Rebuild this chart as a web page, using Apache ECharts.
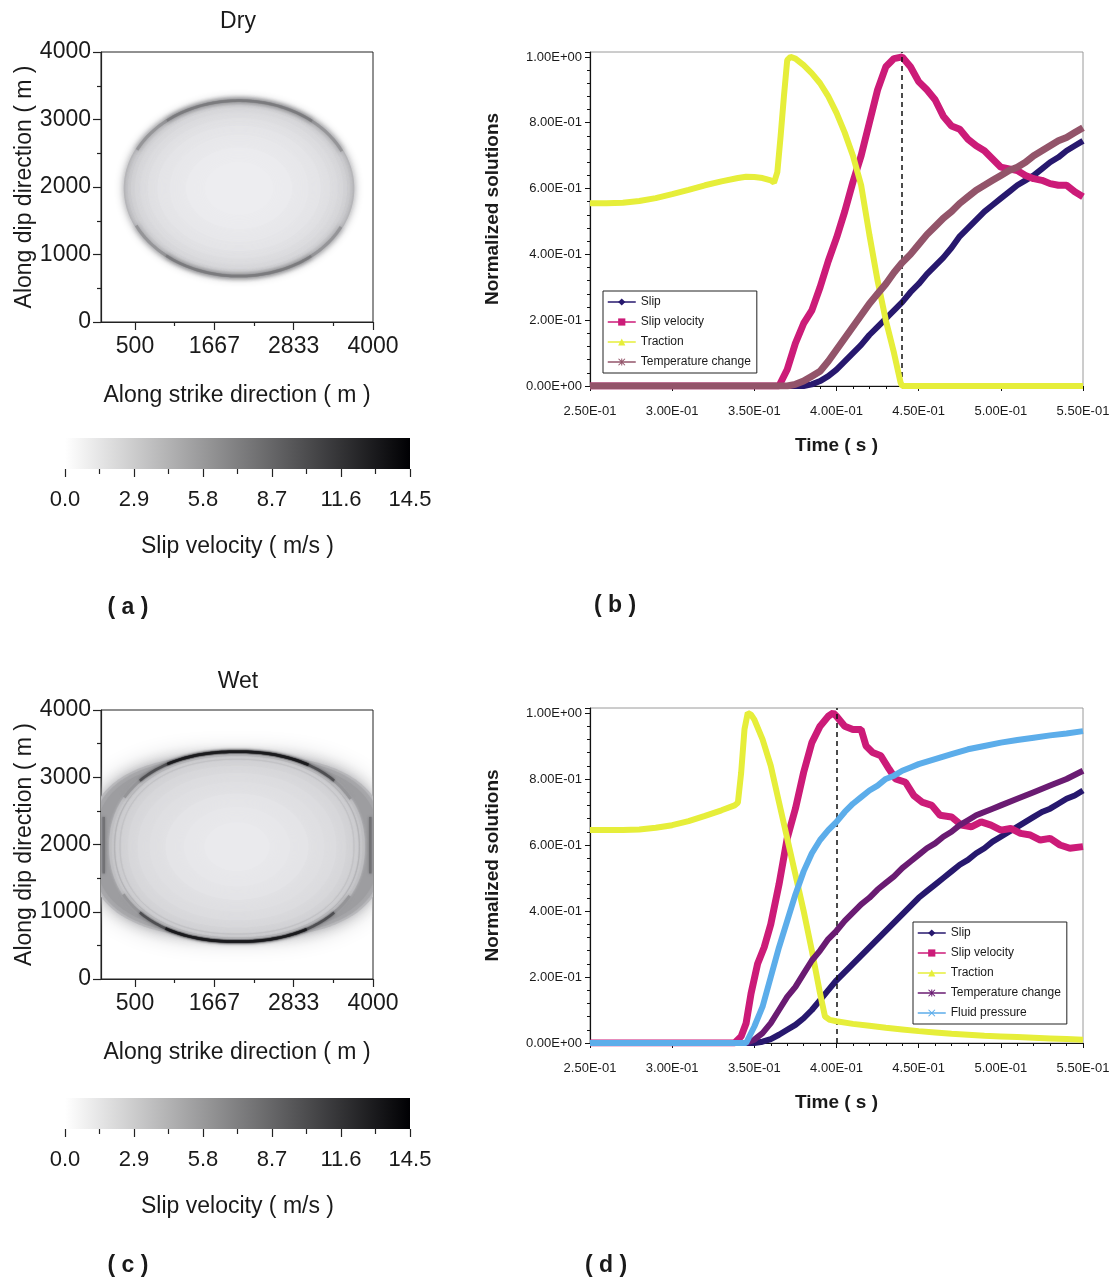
<!DOCTYPE html>
<html>
<head>
<meta charset="utf-8">
<script src="https://cdn.jsdelivr.net/npm/echarts@6/dist/echarts.min.js"></script>
<style>
html,body{margin:0;padding:0;background:#fff;}
#main{width:1117px;height:1279px;}
</style>
</head>
<body>
<div id="main"></div>
<script>
// ---------------- DATA ----------------
// Fault-plane snapshots: rupture fronts as (super)ellipse layers
// [centre strike (m), centre dip (m), half-width (m), half-height (m), shape exponent, slip velocity (m/s), softness]
const dryFronts = [
  [2030, 1980, 1695, 1322, 2.0, 4.6, 10],
  [2030, 1980, 1668, 1298, 2.0, 4.0, 6],
  [2030, 1980, 1635, 1270, 2.0, 3.3, 6],
  [2030, 1980, 1590, 1235, 2.0, 2.8, 8],
  [2030, 1980, 1530, 1190, 2.0, 2.4, 10],
  [2030, 1980, 1450, 1125, 2.0, 2.1, 12],
  [2030, 1980, 1340, 1040, 2.0, 1.8, 14],
  [2030, 1980, 1200, 930, 2.0, 1.55, 16],
  [2030, 1980, 1020, 790, 2.0, 1.35, 18],
  [2030, 1980, 780, 600, 2.0, 1.15, 20],
  [2030, 1980, 500, 390, 2.0, 1.0, 20]
];
// [centre strike, centre dip, half-width, half-height, exponent, from deg, to deg, slip velocity, width, softness]
const dryArcs = [
  [2030, 1980, 1668, 1300, 2.0, 25, 155, 6.0, 3, 5],
  [2030, 1980, 1668, 1300, 2.0, 50, 130, 7.5, 2.5, 4],
  [2030, 1980, 1668, 1300, 2.0, 205, 335, 6.0, 3, 5],
  [2030, 1980, 1668, 1300, 2.0, 230, 310, 7.5, 2.5, 4]
];
const wetFronts = [
  [2000, 1970, 2190, 1360, 2.6, 3.2, 24],
  [2000, 1970, 2150, 1330, 2.6, 4.8, 14],
  [2000, 1970, 2090, 1285, 2.6, 5.6, 8],
  [2000, 1968, 1880, 1420, 2.2, 3.8, 3],
  [2000, 1968, 1840, 1388, 2.2, 3.3, 4],
  [2000, 1968, 1780, 1340, 2.2, 2.9, 5],
  [2000, 1968, 1700, 1280, 2.2, 2.6, 6],
  [2000, 1968, 1600, 1200, 2.2, 2.3, 8],
  [2000, 1968, 1460, 1095, 2.1, 2.0, 10],
  [2000, 1968, 1280, 960, 2.1, 1.8, 12],
  [2000, 1968, 1050, 790, 2.0, 1.55, 14],
  [2000, 1968, 780, 590, 2.0, 1.35, 16],
  [2000, 1968, 480, 360, 2.0, 1.2, 18]
];
const wetArcs = [
  [2000, 1968, 1872, 1412, 2.2, 28, 152, 6, 3, 4],
  [2000, 1968, 1872, 1412, 2.2, 42, 138, 10, 2.5, 3],
  [2000, 1968, 1872, 1412, 2.2, 58, 122, 13, 2.5, 2],
  [2000, 1968, 1872, 1412, 2.2, 208, 332, 6, 3, 4],
  [2000, 1968, 1872, 1412, 2.2, 222, 318, 10, 2.5, 3],
  [2000, 1968, 1872, 1412, 2.2, 238, 302, 13, 2.5, 2],
  [2000, 1968, 1800, 1360, 2.2, 0, 360, 4.2, 1, 1],
  [2000, 1968, 1720, 1300, 2.2, 0, 360, 3.4, 1, 1]
];
// [strike (m), dip from (m), dip to (m), slip velocity, width]
const wetEdges = [
  [40, 1570, 2410, 8, 2.5],
  [3960, 1570, 2410, 8, 2.5]
];
const mapExtent = [0, 4000];
const strikeTicks = [500, 1667, 2833, 4000];
const strikeMinorTicks = [1083, 2250, 3417];
const colorbarRange = [[0, 14.5]];

// Time histories  [time (s), normalized value]
const drySlip = [[0.25,0],[0.38,0],[0.385,0.005],[0.39,0.015],[0.395,0.03],[0.40,0.05],[0.405,0.075],[0.41,0.10],[0.415,0.125],[0.42,0.155],[0.425,0.18],[0.43,0.205],[0.435,0.23],[0.44,0.255],[0.445,0.285],[0.45,0.31],[0.455,0.34],[0.46,0.365],[0.465,0.39],[0.47,0.42],[0.475,0.455],[0.48,0.48],[0.485,0.505],[0.49,0.53],[0.495,0.55],[0.50,0.57],[0.505,0.59],[0.51,0.61],[0.515,0.625],[0.52,0.64],[0.525,0.66],[0.53,0.68],[0.535,0.695],[0.54,0.715],[0.545,0.73],[0.55,0.745]];
const drySlipVelocity = [[0.25,0],[0.365,0],[0.37,0.05],[0.375,0.13],[0.38,0.19],[0.385,0.23],[0.39,0.30],[0.395,0.38],[0.40,0.45],[0.405,0.53],[0.41,0.62],[0.415,0.70],[0.42,0.80],[0.425,0.90],[0.43,0.97],[0.435,0.995],[0.44,1.0],[0.445,0.97],[0.45,0.925],[0.455,0.90],[0.46,0.87],[0.465,0.82],[0.47,0.79],[0.475,0.78],[0.48,0.75],[0.485,0.73],[0.49,0.715],[0.495,0.69],[0.50,0.665],[0.505,0.66],[0.51,0.655],[0.515,0.64],[0.52,0.63],[0.525,0.625],[0.53,0.615],[0.535,0.61],[0.54,0.61],[0.545,0.59],[0.55,0.575]];
const dryTraction = [[0.25,0.555],[0.26,0.555],[0.27,0.557],[0.28,0.562],[0.29,0.571],[0.30,0.583],[0.31,0.596],[0.32,0.61],[0.33,0.622],[0.34,0.632],[0.345,0.636],[0.35,0.635],[0.355,0.632],[0.36,0.625],[0.362,0.618],[0.364,0.65],[0.366,0.76],[0.368,0.88],[0.37,0.99],[0.372,1.0],[0.375,0.995],[0.38,0.975],[0.385,0.95],[0.39,0.92],[0.395,0.88],[0.40,0.83],[0.405,0.77],[0.41,0.70],[0.415,0.61],[0.42,0.46],[0.425,0.32],[0.43,0.20],[0.435,0.10],[0.439,0.01],[0.44,0],[0.55,0]];
const dryTemperature = [[0.25,0],[0.37,0],[0.375,0.005],[0.38,0.015],[0.385,0.03],[0.39,0.045],[0.395,0.075],[0.40,0.11],[0.405,0.145],[0.41,0.18],[0.415,0.215],[0.42,0.25],[0.425,0.28],[0.43,0.31],[0.435,0.345],[0.44,0.375],[0.445,0.40],[0.45,0.43],[0.455,0.46],[0.46,0.485],[0.465,0.51],[0.47,0.53],[0.475,0.555],[0.48,0.575],[0.485,0.595],[0.49,0.61],[0.495,0.625],[0.50,0.64],[0.505,0.655],[0.51,0.665],[0.515,0.68],[0.52,0.70],[0.525,0.715],[0.53,0.73],[0.535,0.745],[0.54,0.755],[0.545,0.77],[0.55,0.785]];
const dryPeakTime = 0.439;

const wetSlip = [[0.25,0],[0.35,0],[0.355,0.004],[0.36,0.012],[0.365,0.025],[0.37,0.04],[0.375,0.055],[0.38,0.075],[0.385,0.10],[0.39,0.13],[0.395,0.16],[0.40,0.19],[0.405,0.215],[0.41,0.24],[0.415,0.265],[0.42,0.29],[0.425,0.315],[0.43,0.34],[0.435,0.365],[0.44,0.39],[0.445,0.415],[0.45,0.44],[0.455,0.46],[0.46,0.48],[0.465,0.50],[0.47,0.52],[0.475,0.54],[0.48,0.555],[0.485,0.575],[0.49,0.59],[0.495,0.61],[0.50,0.625],[0.505,0.64],[0.51,0.655],[0.515,0.67],[0.52,0.685],[0.525,0.70],[0.53,0.71],[0.535,0.725],[0.54,0.74],[0.545,0.75],[0.55,0.765]];
const wetSlipVelocity = [[0.25,0],[0.338,0],[0.342,0.02],[0.345,0.06],[0.348,0.15],[0.352,0.24],[0.356,0.29],[0.36,0.36],[0.365,0.48],[0.37,0.62],[0.375,0.71],[0.38,0.82],[0.385,0.91],[0.39,0.96],[0.395,0.99],[0.398,1.0],[0.40,0.99],[0.405,0.96],[0.41,0.95],[0.415,0.95],[0.418,0.90],[0.422,0.88],[0.427,0.87],[0.432,0.83],[0.436,0.80],[0.442,0.79],[0.447,0.75],[0.452,0.73],[0.458,0.72],[0.463,0.69],[0.47,0.685],[0.476,0.66],[0.482,0.655],[0.488,0.67],[0.494,0.66],[0.50,0.645],[0.506,0.65],[0.512,0.635],[0.518,0.63],[0.524,0.615],[0.53,0.62],[0.536,0.60],[0.542,0.59],[0.55,0.595]];
const wetTraction = [[0.25,0.645],[0.26,0.645],[0.27,0.645],[0.28,0.647],[0.29,0.652],[0.30,0.66],[0.31,0.672],[0.32,0.688],[0.33,0.705],[0.338,0.72],[0.34,0.728],[0.342,0.82],[0.344,0.95],[0.346,1.0],[0.348,0.995],[0.35,0.98],[0.355,0.92],[0.36,0.84],[0.365,0.73],[0.37,0.62],[0.375,0.51],[0.38,0.40],[0.385,0.28],[0.39,0.15],[0.393,0.08],[0.396,0.07],[0.40,0.066],[0.41,0.058],[0.42,0.052],[0.43,0.046],[0.44,0.041],[0.45,0.036],[0.46,0.032],[0.47,0.028],[0.48,0.025],[0.49,0.022],[0.50,0.02],[0.51,0.018],[0.52,0.016],[0.53,0.014],[0.54,0.012],[0.55,0.01]];
const wetTemperature = [[0.25,0],[0.345,0],[0.35,0.01],[0.355,0.03],[0.36,0.06],[0.365,0.10],[0.37,0.14],[0.375,0.17],[0.38,0.21],[0.385,0.25],[0.39,0.28],[0.395,0.315],[0.40,0.34],[0.405,0.37],[0.41,0.395],[0.415,0.42],[0.42,0.44],[0.425,0.465],[0.43,0.485],[0.435,0.505],[0.44,0.53],[0.445,0.55],[0.45,0.57],[0.455,0.59],[0.46,0.605],[0.465,0.625],[0.47,0.64],[0.475,0.66],[0.48,0.675],[0.485,0.69],[0.49,0.70],[0.495,0.71],[0.50,0.72],[0.51,0.74],[0.52,0.76],[0.53,0.78],[0.54,0.80],[0.55,0.825]];
const wetFluidPressure = [[0.25,0],[0.345,0],[0.35,0.05],[0.355,0.11],[0.36,0.20],[0.365,0.29],[0.37,0.37],[0.375,0.45],[0.38,0.52],[0.385,0.575],[0.39,0.615],[0.395,0.645],[0.40,0.67],[0.405,0.70],[0.41,0.725],[0.415,0.745],[0.42,0.765],[0.425,0.78],[0.43,0.80],[0.435,0.81],[0.44,0.825],[0.445,0.835],[0.45,0.845],[0.46,0.86],[0.47,0.875],[0.48,0.89],[0.49,0.90],[0.50,0.91],[0.51,0.918],[0.52,0.925],[0.53,0.932],[0.54,0.938],[0.55,0.945]];
const wetPeakTime = 0.396;

// ---------------- RENDER ----------------
const FONT = 'Liberation Sans, Arial, Helvetica, sans-serif';
const TXT = '#1a1a1a';
const COL = {
  slip: '#27186e', slipVel: '#cc1b78', traction: '#e6ee3a',
  tempDry: '#93546a', tempWet: '#6a1b72', fluid: '#5cadea'
};
const SYM = {
  star: 'path://M0,1 L1,0 L5,4 L9,0 L10,1 L6,5 L10,9 L9,10 L5,6 L1,10 L0,9 L4,5 Z M4.3,0 L5.7,0 L5.7,10 L4.3,10 Z',
  cross: 'path://M0,1 L1,0 L5,4 L9,0 L10,1 L6,5 L10,9 L9,10 L5,6 L1,10 L0,9 L4,5 Z'
};
function gray(v) {
  const t = Math.min(Math.max(v / 14.5, 0), 1);
  const g = Math.round(255 * (1 - t));
  return 'rgb(' + g + ',' + g + ',' + Math.min(255, g + 3) + ')';
}
function clamp(v) { return Math.min(Math.max(v, mapExtent[0]), mapExtent[1]); }
function superPoint(cx, cy, rx, ry, n, a) {
  const c = Math.cos(a), s = Math.sin(a);
  const x = cx + rx * Math.sign(c) * Math.pow(Math.abs(c), 2 / n);
  const y = cy + ry * Math.sign(s) * Math.pow(Math.abs(s), 2 / n);
  return [clamp(x), clamp(y)];
}
function renderFront(params, api) {
  const cx = api.value(0), cy = api.value(1), rx = api.value(2), ry = api.value(3),
        n = api.value(4), v = api.value(5), blur = api.value(6);
  const pts = [];
  for (let k = 0; k < 240; k++) {
    pts.push(api.coord(superPoint(cx, cy, rx, ry, n, k / 240 * 2 * Math.PI)));
  }
  return { type: 'polygon', shape: { points: pts },
    style: { fill: gray(v), shadowBlur: blur, shadowColor: gray(v) } };
}
function renderArc(params, api) {
  const cx = api.value(0), cy = api.value(1), rx = api.value(2), ry = api.value(3),
        n = api.value(4), a0 = api.value(5), a1 = api.value(6), v = api.value(7),
        w = api.value(8), blur = api.value(9);
  const pts = [];
  for (let a = a0; a <= a1 + 1e-9; a += 1.5) {
    pts.push(api.coord(superPoint(cx, cy, rx, ry, n, a * Math.PI / 180)));
  }
  return { type: 'polyline', shape: { points: pts },
    style: { stroke: gray(v), lineWidth: w, fill: null, shadowBlur: blur, shadowColor: gray(v) } };
}
function renderEdge(params, api) {
  const p0 = api.coord([api.value(0), api.value(1)]);
  const p1 = api.coord([api.value(0), api.value(2)]);
  const v = api.value(3);
  return { type: 'line', shape: { x1: p0[0], y1: p0[1], x2: p1[0], y2: p1[1] },
    style: { stroke: gray(v), lineWidth: api.value(4), shadowBlur: 3, shadowColor: gray(v) } };
}
function renderBar(params, api) {
  const a = api.coord([api.value(0), 1]);
  const b = api.coord([api.value(1), 0]);
  return { type: 'rect', shape: { x: a[0], y: a[1], width: b[0] - a[0], height: b[1] - a[1] },
    style: { fill: { type: 'linear', x: 0, y: 0, x2: 1, y2: 0,
      colorStops: [{ offset: 0, color: gray(0) }, { offset: 1, color: gray(14.5) }] } } };
}
function sci(v) {
  if (Math.abs(v) < 1e-12) v = 0;
  const parts = v.toExponential(2).split('e');
  const e = parts[1];
  return parts[0] + 'E' + e[0] + e.slice(1).padStart(2, '0');
}
function yLab(v) {
  const r = v / 0.2;
  return Math.abs(r - Math.round(r)) < 1e-6 ? sci(Math.round(r) * 0.2) : '';
}

const grids = [
  { left: 101, top: 52, width: 272, height: 270 },   // 0 dry map
  { left: 101, top: 52, width: 272, height: 270 },   // 1 dry map minor ticks
  { left: 65, top: 438, width: 345, height: 31 },    // 2 dry colorbar
  { left: 590, top: 52, width: 493, height: 334 },   // 3 (b)
  { left: 101, top: 710, width: 272, height: 269 },  // 4 wet map
  { left: 101, top: 710, width: 272, height: 269 },  // 5 wet map minor ticks
  { left: 65, top: 1098, width: 345, height: 31 },   // 6 wet colorbar
  { left: 590, top: 708, width: 493, height: 335 }   // 7 (d)
].map(function (g, i) {
  const isMap = (i === 0 || i === 4);
  const isLine = (i === 3 || i === 7);
  return Object.assign({}, g, {
    show: isMap || isLine,
    borderColor: isMap ? '#222' : '#9a9a9a',
    borderWidth: 1,
    backgroundColor: 'transparent'
  });
});

const mapName = { fontFamily: FONT, fontSize: 23, color: TXT };
function mapX(gi) {
  return { gridIndex: gi, type: 'value', min: mapExtent[0], max: mapExtent[1],
    axisLine: { show: true, lineStyle: { color: '#222', width: 1.2 } },
    axisTick: { show: true, length: 8, customValues: strikeTicks, lineStyle: { color: '#222', width: 1.2 } },
    axisLabel: { customValues: strikeTicks, formatter: function (v) { return String(Math.round(v)); },
      fontFamily: FONT, fontSize: 23, color: TXT, margin: 13 },
    splitLine: { show: false },
    name: 'Along strike direction ( m )', nameLocation: 'middle', nameGap: 62, nameTextStyle: mapName };
}
function mapXMinor(gi) {
  return { gridIndex: gi, type: 'value', min: mapExtent[0], max: mapExtent[1],
    axisLine: { show: false },
    axisTick: { show: true, length: 4, customValues: strikeMinorTicks, lineStyle: { color: '#222', width: 1.2 } },
    axisLabel: { show: false }, splitLine: { show: false } };
}
function mapY(gi) {
  return { gridIndex: gi, type: 'value', min: mapExtent[0], max: mapExtent[1], interval: 1000,
    axisLine: { show: true, lineStyle: { color: '#222', width: 1.2 } },
    axisTick: { show: true, length: 8, lineStyle: { color: '#222', width: 1.2 } },
    minorTick: { show: true, splitNumber: 2, length: 4, lineStyle: { color: '#222', width: 1.2 } },
    axisLabel: { formatter: function (v) { return String(Math.round(v)); },
      fontFamily: FONT, fontSize: 23, color: TXT, margin: 10 },
    splitLine: { show: false }, minorSplitLine: { show: false },
    name: 'Along dip direction ( m )', nameLocation: 'middle', nameGap: 64, nameTextStyle: mapName };
}
function hiddenY(gi, max) {
  return { gridIndex: gi, type: 'value', min: 0, max: max, show: false, splitLine: { show: false } };
}
function barX(gi) {
  return { gridIndex: gi, type: 'value', min: 0, max: 14.5, interval: 2.9,
    axisLine: { show: false },
    axisTick: { show: true, length: 8, lineStyle: { color: '#222', width: 1.2 } },
    minorTick: { show: true, splitNumber: 2, length: 5, lineStyle: { color: '#222', width: 1.2 } },
    axisLabel: { formatter: function (v) { return v.toFixed(1); }, fontFamily: FONT, fontSize: 22, color: TXT, margin: 20 },
    splitLine: { show: false }, minorSplitLine: { show: false },
    name: 'Slip velocity ( m/s )', nameLocation: 'middle', nameGap: 66, nameTextStyle: mapName };
}
const boldName = { fontFamily: FONT, fontSize: 19, fontWeight: 'bold', color: TXT };
function lineX(gi) {
  return { gridIndex: gi, type: 'value', min: 0.25, max: 0.55, interval: 0.05,
    axisLine: { show: true, lineStyle: { color: '#111', width: 1.2 } },
    axisTick: { show: true, length: 5, lineStyle: { color: '#111' } },
    minorTick: { show: true, splitNumber: 5, length: 3, lineStyle: { color: '#111' } },
    axisLabel: { formatter: sci, fontFamily: FONT, fontSize: 13, color: TXT, margin: 19 },
    splitLine: { show: false }, minorSplitLine: { show: false },
    name: 'Time ( s )', nameLocation: 'middle', nameGap: 50, nameTextStyle: boldName };
}
function lineY(gi) {
  return { gridIndex: gi, type: 'value', min: 0, max: 1.015, interval: 0.2,
    axisLine: { show: true, lineStyle: { color: '#111', width: 1.2 } },
    axisTick: { show: true, length: 5, lineStyle: { color: '#111' } },
    minorTick: { show: true, splitNumber: 5, length: 3, lineStyle: { color: '#111' } },
    axisLabel: { formatter: yLab, fontFamily: FONT, fontSize: 13, color: TXT, margin: 8, showMaxLabel: false },
    splitLine: { show: false }, minorSplitLine: { show: false },
    name: 'Normalized solutions', nameLocation: 'middle', nameGap: 88,
    nameTextStyle: Object.assign({ padding: [0, 0, 0, 20] }, boldName) };
}

function lineSeries(name, data, color, symbol, axis, z, width) {
  return { type: 'line', name: name, data: data, xAxisIndex: axis, yAxisIndex: axis,
    showSymbol: false, symbol: symbol, symbolSize: 8, smooth: false, z: z,
    lineStyle: { color: color, width: width || 6 }, itemStyle: { color: color },
    emphasis: { disabled: true }, clip: true };
}
function peakLine(t) {
  return { silent: true, symbol: ['none', 'none'], label: { show: false },
    lineStyle: { color: '#111', type: [5, 4], width: 1.5 }, data: [{ xAxis: t }] };
}
function mapSeries(axis, fronts, arcs, edges) {
  const out = [
    { type: 'custom', xAxisIndex: axis, yAxisIndex: axis, data: fronts, renderItem: renderFront, clip: true, silent: true, z: 1 },
    { type: 'custom', xAxisIndex: axis, yAxisIndex: axis, data: arcs, renderItem: renderArc, clip: true, silent: true, z: 2 }
  ];
  if (edges) out.push({ type: 'custom', xAxisIndex: axis, yAxisIndex: axis, data: edges, renderItem: renderEdge, clip: true, silent: true, z: 3 });
  return out;
}

const dryB = [
  lineSeries('Slip', drySlip, COL.slip, 'diamond', 3, 3, 6),
  lineSeries('Slip velocity', drySlipVelocity, COL.slipVel, 'rect', 3, 4, 7),
  lineSeries('Traction', dryTraction, COL.traction, 'triangle', 3, 5, 6),
  lineSeries('Temperature change', dryTemperature, COL.tempDry, SYM.star, 3, 6, 7)
];
dryB[3].markLine = peakLine(dryPeakTime);
const wetD = [
  lineSeries('Slip', wetSlip, COL.slip, 'diamond', 7, 3, 6),
  lineSeries('Slip velocity', wetSlipVelocity, COL.slipVel, 'rect', 7, 4, 7),
  lineSeries('Traction', wetTraction, COL.traction, 'triangle', 7, 5, 6),
  lineSeries('Temperature change', wetTemperature, COL.tempWet, SYM.star, 7, 6, 6),
  lineSeries('Fluid pressure', wetFluidPressure, COL.fluid, SYM.cross, 7, 7, 6)
];
wetD[4].markLine = peakLine(wetPeakTime);

function legendItem(name, color) {
  return { name: name, itemStyle: { color: color }, lineStyle: { color: color, width: 1.5 } };
}
const legendBase = {
  orient: 'vertical', selectedMode: false, backgroundColor: '#fff',
  borderColor: '#222', borderWidth: 1, padding: [5, 6, 5, 4], itemGap: 8,
  itemWidth: 28, itemHeight: 9,
  textStyle: { fontFamily: FONT, fontSize: 12, color: TXT },
  lineStyle: { width: 1.5 }
};

function textG(str, x, y, size, bold) {
  return { type: 'text', x: x, y: y, silent: true,
    style: { text: str, fontFamily: FONT, fontSize: size, fontWeight: bold ? 'bold' : 'normal',
      fill: TXT, textAlign: 'center', textVerticalAlign: 'middle' } };
}

const option = {
  animation: false,
  backgroundColor: '#fff',
  grid: grids,
  xAxis: [mapX(0), mapXMinor(1), barX(2), lineX(3), mapX(4), mapXMinor(5), barX(6), lineX(7)],
  yAxis: [mapY(0), hiddenY(1, 4000), hiddenY(2, 1), lineY(3), mapY(4), hiddenY(5, 4000), hiddenY(6, 1), lineY(7)],
  legend: [
    Object.assign({}, legendBase, { left: 603, top: 291,
      data: [legendItem('Slip', COL.slip), legendItem('Slip velocity', COL.slipVel),
             legendItem('Traction', COL.traction), legendItem('Temperature change', COL.tempDry)] }),
    Object.assign({}, legendBase, { left: 913, top: 922,
      data: [legendItem('Slip', COL.slip), legendItem('Slip velocity', COL.slipVel),
             legendItem('Traction', COL.traction), legendItem('Temperature change', COL.tempWet),
             legendItem('Fluid pressure', COL.fluid)] })
  ],
  series: [].concat(
    mapSeries(0, dryFronts, dryArcs, null),
    [{ type: 'custom', xAxisIndex: 2, yAxisIndex: 2, data: colorbarRange, renderItem: renderBar, silent: true }],
    dryB,
    mapSeries(4, wetFronts, wetArcs, wetEdges),
    [{ type: 'custom', xAxisIndex: 6, yAxisIndex: 6, data: colorbarRange, renderItem: renderBar, silent: true }],
    wetD
  ),
  graphic: [
    textG('Dry', 238, 22, 23, false),
    textG('Wet', 238, 682, 23, false),
    textG('( a )', 128, 608, 23, true),
    textG('( b )', 615, 606, 23, true),
    textG('( c )', 128, 1266, 23, true),
    textG('( d )', 606, 1266, 23, true)
  ]
};

const chart = echarts.init(document.getElementById('main'), null, { renderer: 'canvas' });
chart.setOption(option);
</script>
</body>
</html>
